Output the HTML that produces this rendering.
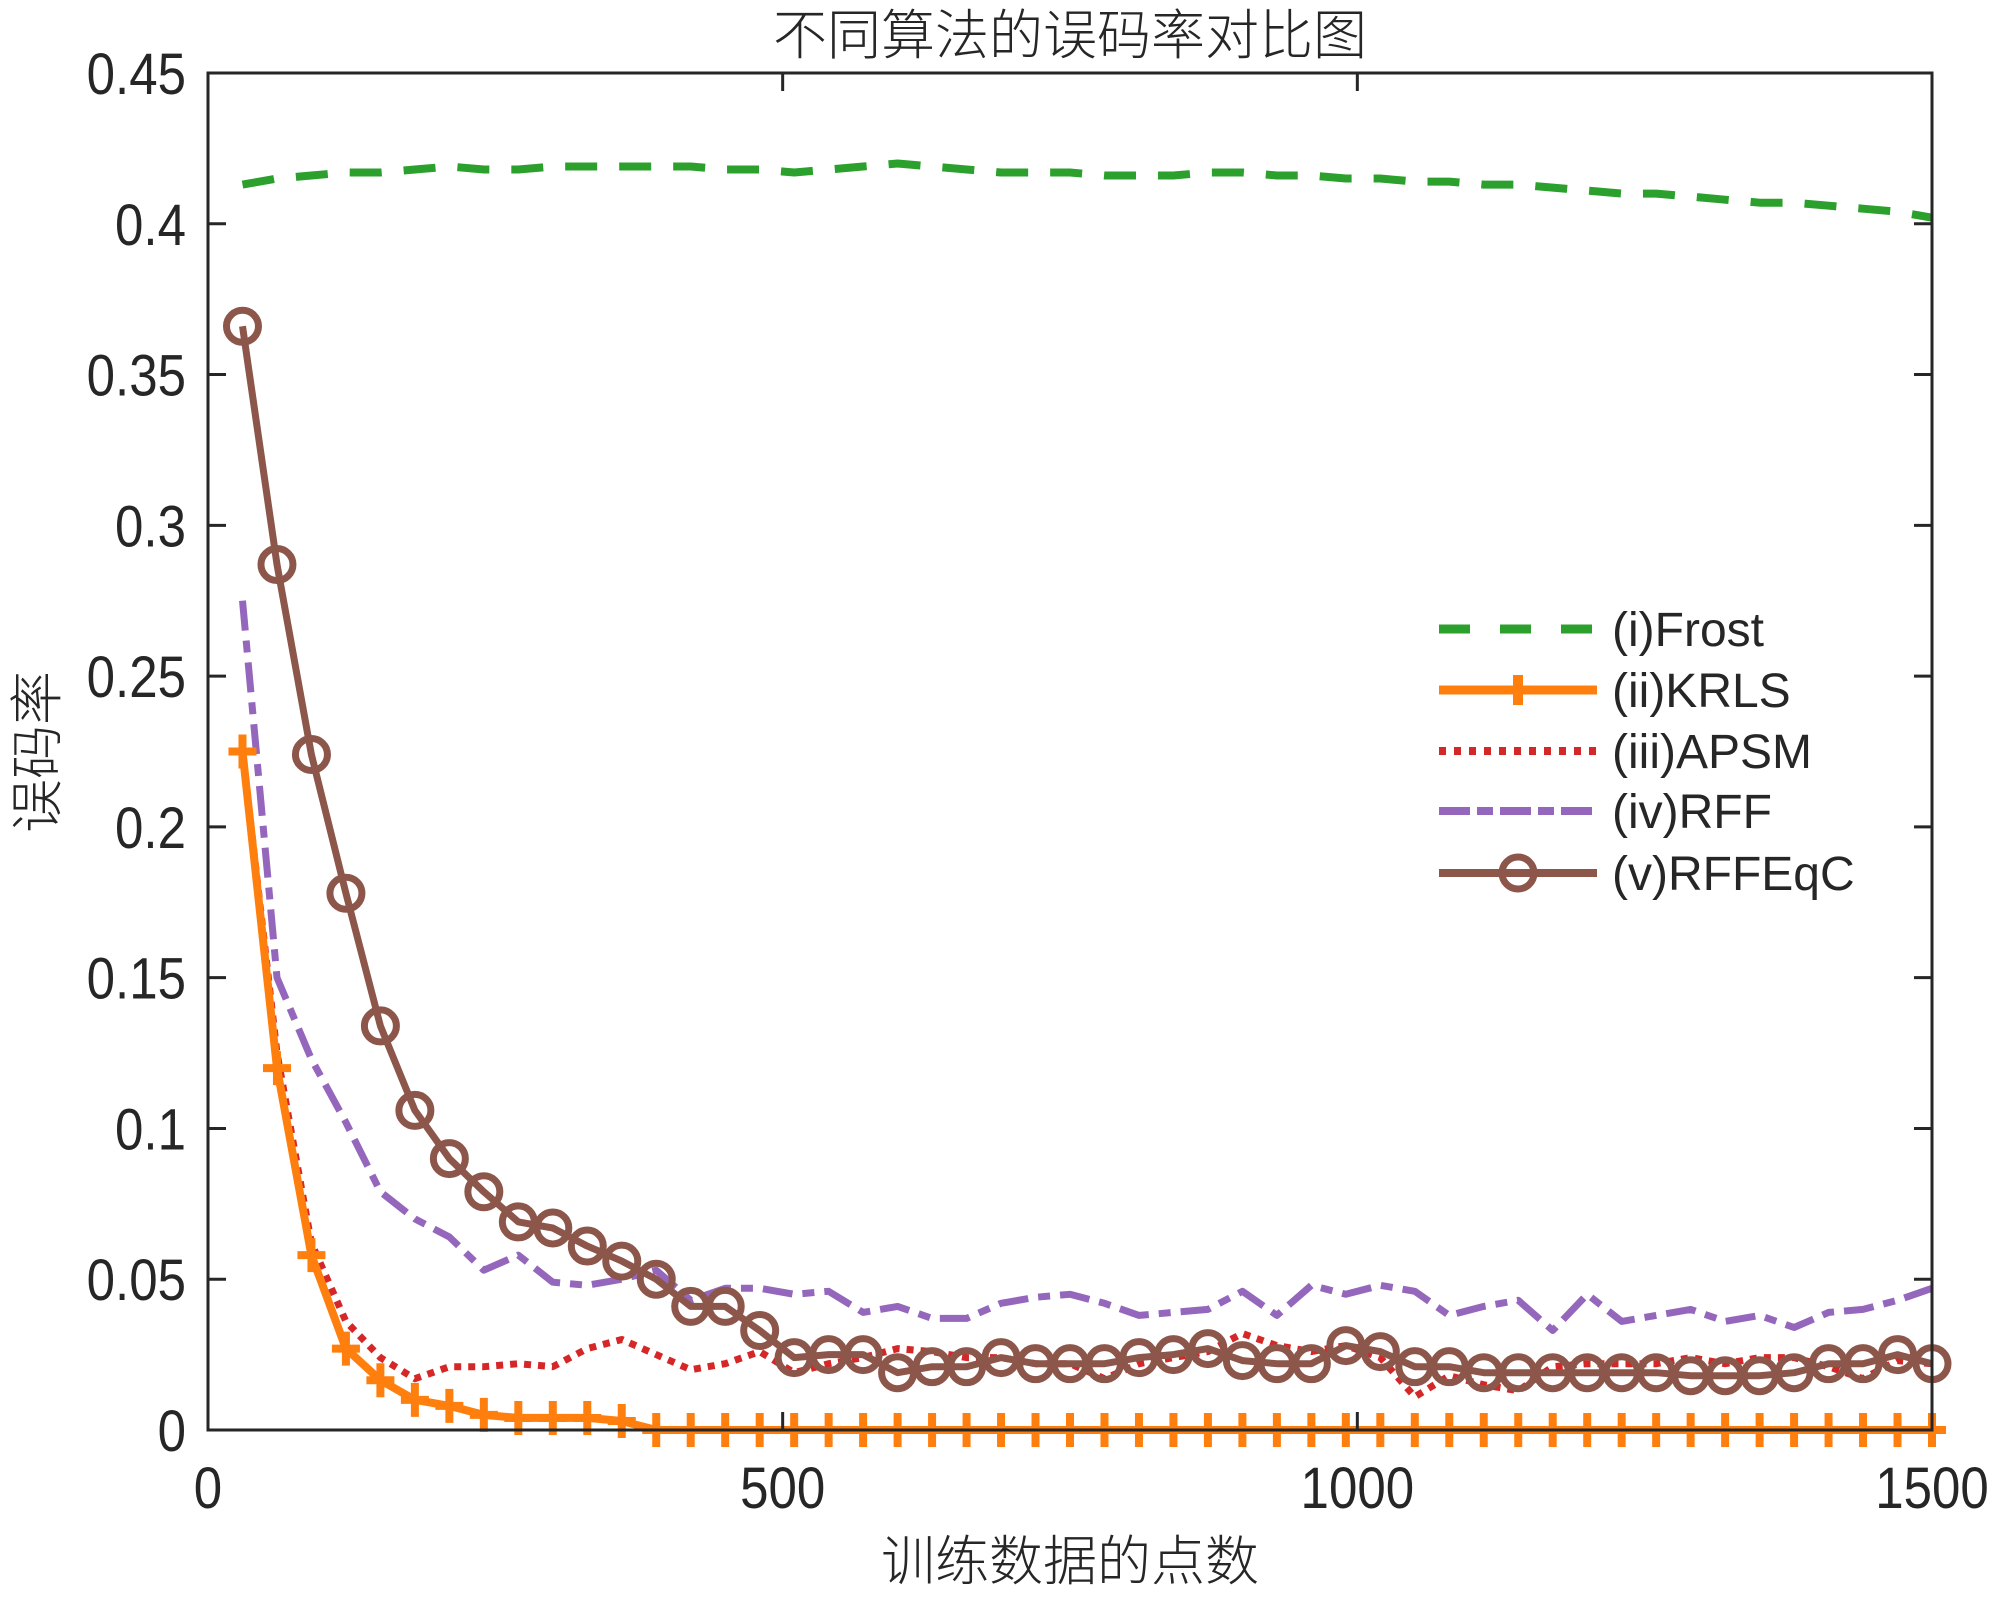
<!DOCTYPE html>
<html><head><meta charset="utf-8"><style>
html,body{margin:0;padding:0;background:#fff;}
svg{display:block;}
text{font-family:"Liberation Sans","Noto Sans CJK SC",sans-serif;fill:#262626;}
</style></head><body>
<svg id="chart" width="2000" height="1597" viewBox="0 0 2000 1597">
<rect x="0" y="0" width="2000" height="1597" fill="#fff"/>
<g id="marks"></g>
<g id="axes"></g>
<g id="legend"></g>
</svg>
<script>
const xValues=[];for(let i=1;i<=50;i++)xValues.push(i*30);
const frost=[0.413,0.415,0.416,0.417,0.417,0.418,0.419,0.418,0.418,0.419,0.419,0.419,0.419,0.419,0.418,0.418,0.417,0.418,0.419,0.42,0.419,0.418,0.417,0.417,0.417,0.416,0.416,0.416,0.417,0.417,0.416,0.416,0.415,0.415,0.414,0.414,0.413,0.413,0.412,0.411,0.410,0.410,0.409,0.408,0.407,0.407,0.406,0.405,0.404,0.402];
const krls=[0.225,0.120,0.058,0.027,0.0165,0.010,0.008,0.005,0.004,0.004,0.004,0.003,0,0,0,0,0,0,0,0,0,0,0,0,0,0,0,0,0,0,0,0,0,0,0,0,0,0,0,0,0,0,0,0,0,0,0,0,0,0];
const apsm=[0.225,0.125,0.062,0.036,0.024,0.017,0.021,0.021,0.022,0.021,0.027,0.030,0.025,0.020,0.022,0.026,0.019,0.022,0.024,0.027,0.026,0.024,0.024,0.022,0.022,0.017,0.022,0.024,0.026,0.032,0.028,0.026,0.028,0.024,0.011,0.018,0.015,0.013,0.021,0.022,0.022,0.022,0.024,0.022,0.024,0.024,0.021,0.017,0.023,0.022];
const rff=[0.275,0.150,0.123,0.102,0.079,0.070,0.064,0.053,0.058,0.049,0.048,0.050,0.053,0.043,0.047,0.047,0.045,0.046,0.039,0.041,0.037,0.037,0.042,0.044,0.045,0.042,0.038,0.039,0.040,0.046,0.038,0.048,0.045,0.048,0.046,0.038,0.041,0.043,0.033,0.045,0.036,0.038,0.040,0.036,0.038,0.034,0.039,0.040,0.043,0.047];
const rffeqc=[0.366,0.287,0.224,0.178,0.134,0.106,0.090,0.079,0.069,0.067,0.061,0.056,0.050,0.041,0.041,0.033,0.024,0.025,0.025,0.019,0.021,0.021,0.024,0.022,0.022,0.022,0.024,0.025,0.027,0.023,0.022,0.022,0.028,0.026,0.021,0.021,0.019,0.019,0.019,0.019,0.019,0.019,0.018,0.018,0.018,0.019,0.022,0.022,0.025,0.022];
const xTicks=[0,500,1000,1500];
const yTicks=[0,0.05,0.1,0.15,0.2,0.25,0.3,0.35,0.4,0.45];
const yTickLabels=["0","0.05","0.1","0.15","0.2","0.25","0.3","0.35","0.4","0.45"];
const legendLabels=["(i)Frost","(ii)KRLS","(iii)APSM","(iv)RFF","(v)RFFEqC"];

const NS="http://www.w3.org/2000/svg";
const L=208,R=1932,T=73,B=1430;
const xs=v=>L+(v/1500)*(R-L);
const ys=v=>B-(v/0.45)*(B-T);
function mk(tag,attrs,parent){const e=document.createElementNS(NS,tag);for(const k in attrs)e.setAttribute(k,attrs[k]);parent.appendChild(e);return e;}
const marks=document.getElementById('marks'),axes=document.getElementById('axes'),legend=document.getElementById('legend');
function pts(arr){return arr.map((v,i)=>xs(xValues[i]).toFixed(1)+','+ys(v).toFixed(1)).join(' ');}
const styles={
 frost:{stroke:'#2ca02c',w:8,dash:'32 22'},
 apsm:{stroke:'#d62728',w:7,dash:'7 7'},
 rff:{stroke:'#9467bd',w:7,dash:'30 10 12 10'},
 krls:{stroke:'#ff7f0e',w:8,dash:''},
 rffeqc:{stroke:'#8c564b',w:7,dash:''}
};
function line(arr,key){const s=styles[key];const p=mk('polyline',{points:pts(arr),fill:'none',stroke:s.stroke,'stroke-width':s.w,'stroke-dasharray':s.dash,'stroke-linejoin':'round'},marks);

}
line(frost,'frost');line(rff,'rff');line(apsm,'apsm');line(krls,'krls');
krls.forEach((v,i)=>{const g=mk('path',{d:`M${xs(xValues[i])-14},${ys(v)}h28M${xs(xValues[i])},${ys(v)-17}v34`,stroke:'#ff7f0e','stroke-width':8,fill:'none'},marks);

});
line(rffeqc,'rffeqc');
rffeqc.forEach((v,i)=>{const c=mk('circle',{cx:xs(xValues[i]),cy:ys(v),r:16,fill:'none',stroke:'#8c564b','stroke-width':7},marks);

});

const box=mk('rect',{x:L,y:T,width:R-L,height:B-T,fill:'none',stroke:'#262626','stroke-width':3},axes);


xTicks.forEach(v=>{const x=xs(v);mk('path',{d:`M${x},${B}v-18M${x},${T}v18`,stroke:'#262626','stroke-width':3},axes);
const t=mk('text',{x:x,y:1508,'font-size':58,'text-anchor':'middle',transform:`translate(${x},0) scale(0.88,1) translate(${-x},0)`},axes);t.textContent=v;

});
yTicks.forEach((v,i)=>{const y=ys(v);mk('path',{d:`M${L},${y}h18M${R},${y}h-18`,stroke:'#262626','stroke-width':3},axes);
const t=mk('text',{x:186,y:y+21,'font-size':58,'text-anchor':'end',transform:`translate(186,0) scale(0.88,1) translate(-186,0)`},axes);t.textContent=yTickLabels[i];

});
const title=mk('text',{x:1070,y:54,'font-size':54,'text-anchor':'middle','font-weight':'300'},axes);title.textContent='不同算法的误码率对比图';


const xl=mk('text',{x:1070,y:1580,'font-size':54,'text-anchor':'middle','font-weight':'300'},axes);xl.textContent='训练数据的点数';


const yl=mk('text',{x:0,y:0,'font-size':54,'text-anchor':'middle','font-weight':'300',transform:'translate(56,752) rotate(-90)'},axes);yl.textContent='误码率';



const keys=['frost','krls','apsm','rff','rffeqc'];
const ly=[629,690,751,811,873];
keys.forEach((k,i)=>{const s=styles[k];const g=mk('g',{},legend);


mk('path',{d:`M1439,${ly[i]}H1597`,stroke:s.stroke,'stroke-width':s.w+1,'stroke-dasharray':k==='frost'?'31 30':(k==='apsm'?'7 8':(k==='rff'?'31 7 16 7':'')),fill:'none'},g);
if(k==='krls')mk('path',{d:`M1518,${ly[i]-15}v30`,stroke:s.stroke,'stroke-width':10},g);
if(k==='rffeqc')mk('circle',{cx:1518,cy:ly[i],r:16,fill:'none',stroke:s.stroke,'stroke-width':7},g);
const t=mk('text',{x:1612,y:ly[i]+17,'font-size':48},g);t.textContent=legendLabels[i];});
</script>
</body></html>
